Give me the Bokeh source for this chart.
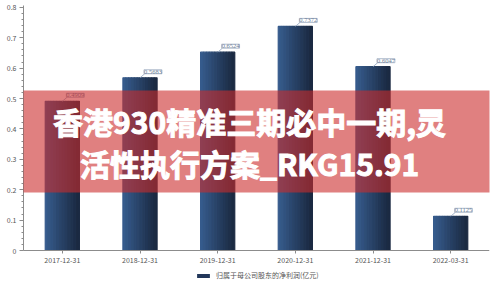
from bokeh.plotting import figure
from bokeh.models import (ColumnDataSource, FactorRange, Range1d, LabelSet, Label,
                          BoxAnnotation, Legend, LegendItem, CustomJSTickFormatter, FixedTicker)
from bokeh.transform import dodge
from bokeh.embed import file_html
from bokeh.resources import INLINE

categories = ["2017-12-31", "2018-12-31", "2019-12-31", "2020-12-31", "2021-12-31", "2022-03-31"]
values = [0.4909, 0.5683, 0.6524, 0.7372, 0.6047, 0.1125]
value_labels = ["0.4909", "0.5683", "0.6524", "0.7372", "0.6047", "0.1125"]
y_ticks = [0, 0.1, 0.2, 0.3, 0.4, 0.5, 0.6, 0.7, 0.8]
series_name = "归属于母公司股东的净利润(亿元)"
title_lines = ["香港930精准三期必中一期,灵", "活性执行方案_RKG15.91"]

FONT = "Noto Sans CJK SC"
PX = 304.0           # pixels per unit on the y scale
FB = 283             # canvas y of the frame bottom

src = ColumnDataSource(dict(cat=categories, val=values, lab=value_labels))

p = figure(width=498, height=283, x_range=FactorRange(*categories, range_padding=0),
           y_range=Range1d(-33 / PX, 0.806), output_backend="svg", toolbar_location=None,
           min_border_left=23, min_border_right=9, min_border_top=5, min_border_bottom=0,
           outline_line_color=None, background_fill_color="white", border_fill_color="white")
p.grid.visible = False

# gradient bars built from strips
N = 12
bar_w = 0.44
c0 = (0x36, 0x5b, 0x8c)
c1 = (0x1b, 0x2a, 0x42)
for i in range(N):
    t = i / (N - 1)
    col = "#%02x%02x%02x" % tuple(int(round(a + (b - a) * t)) for a, b in zip(c0, c1))
    off = -bar_w / 2 + (i + 0.5) * bar_w / N
    p.vbar(x=dodge("cat", off, range=p.x_range), top="val", bottom=0, width=bar_w / N,
           source=src, fill_color=col, line_color=col, line_width=1.2)

# leader lines
p.segment(x0="cat", y0="val", x1=dodge("cat", 0.06, range=p.x_range), y1=dodge("val", 0.013),
          source=src, line_color="#8fa2bd", line_width=0.8)

labels = LabelSet(x="cat", y="val", text="lab", source=src, x_offset=4, y_offset=4,
                  text_font=FONT, text_font_size="6.5px", text_color="#6d7f98",
                  text_align="left", text_baseline="bottom",
                  background_fill_color="white", border_line_color="#9aaabf",
                  border_line_width=0.8)
p.add_layout(labels)

# axes
ax = p.xaxis[0]
ax.fixed_location = 0
ax.axis_line_color = "#8c8c8c"
ax.major_tick_line_color = "#8c8c8c"
ax.major_tick_out = 3
ax.major_tick_in = 0
ax.minor_tick_line_color = None
ax.major_label_text_font = FONT
ax.major_label_text_font_size = "7px"
ax.major_label_text_color = "#555555"
ax.major_label_standoff = 3

ay = p.yaxis[0]
ay.bounds = (0, 0.806)
ay.ticker = FixedTicker(ticks=y_ticks, minor_ticks=[i / 50 for i in range(41)])
ay.formatter = CustomJSTickFormatter(code="return tick == 0 ? '0' : tick.toFixed(1);")
ay.axis_line_color = "#8c8c8c"
ay.major_tick_line_color = "#8c8c8c"
ay.minor_tick_line_color = "#8c8c8c"
ay.major_tick_out = 4
ay.major_tick_in = 0
ay.minor_tick_out = 2
ay.minor_tick_in = 0
ay.major_label_text_font = FONT
ay.major_label_text_font_size = "7px"
ay.major_label_text_color = "#555555"
ay.major_label_standoff = 3

# legend inside the (extended) frame, below the axis; proxy renderer has zero height
proxy = p.vbar(x=categories[:1], top=[0], bottom=0, width=0.01,
               fill_color="#22375a", line_color=None)
legend = Legend(items=[LegendItem(label=series_name, renderers=[proxy])],
                orientation="horizontal", location=(172, FB - 280),
                glyph_width=16, glyph_height=5, label_height=8, label_standoff=5,
                label_text_font=FONT, label_text_font_size="7px", label_text_color="#555555",
                padding=2, margin=0, border_line_color=None, background_fill_alpha=0)
p.add_layout(legend)

# overlay band and title
band = BoxAnnotation(left=-30, right=490, bottom=FB - 192, top=FB - 90,
                     left_units="screen", right_units="screen", bottom_units="screen", top_units="screen",
                     fill_color="#cb2b2b", fill_alpha=0.6, line_color=None)
p.add_layout(band)
for i, line in enumerate(title_lines):
    p.add_layout(Label(x=226, y=FB - (120 + 42 * i), x_units="screen", y_units="screen",
                       text=line, text_font=FONT, text_font_style="bold", text_font_size="30px",
                       text_color="white", text_outline_color="white",
                       text_align="center", text_baseline="middle"))

open("out.html", "w").write(file_html(p, INLINE))
